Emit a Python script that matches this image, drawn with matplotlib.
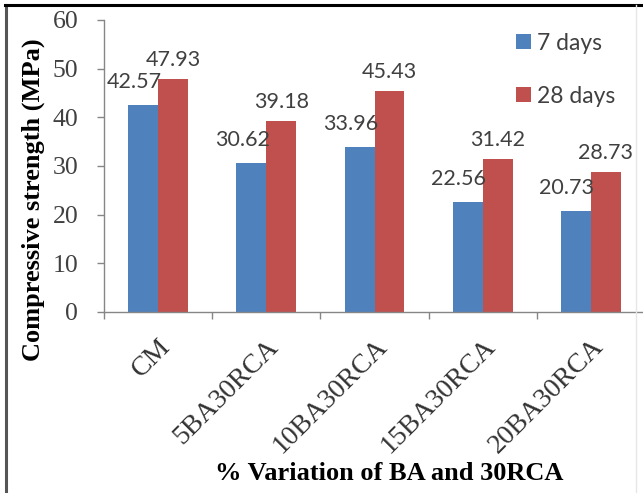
import numpy as np
import matplotlib
matplotlib.use('Agg')
from matplotlib import pyplot as plt
from matplotlib.lines import Line2D

# data
categories = ['CM', '5BA30RCA', '10BA30RCA', '15BA30RCA', '20BA30RCA']
days7 = [42.57, 30.62, 33.96, 22.56, 20.73]
days28 = [47.93, 39.18, 45.43, 31.42, 28.73]
series_names = ['7 days', '28 days']
yticks = [0, 10, 20, 30, 40, 50, 60]

blue = '#4F81BD'
red = '#C0504D'
axis_grey = '#868686'
text_grey = '#404040'
serif = 'Liberation Serif'
sans = 'Lato'

W, H = 643, 493
fig = plt.figure(figsize=(W / 100, H / 100), dpi=100)
ax = fig.add_axes([104 / W, 1 - 312 / H, (645 - 104) / W, (312 - 20) / H])

x = np.arange(len(categories))
w = 0.277
ax.bar(x - w / 2, days7, w, color=blue, label=series_names[0])
ax.bar(x + w / 2, days28, w, color=red, label=series_names[1])

# data labels (7 day labels sit a bit to the left like in the original)
for xi, v in zip(x, days7):
    ax.annotate(f'{v:.2f}', (xi - w / 2, v), xytext=(-9, 23), textcoords='offset pixels',
                ha='center', va='center', fontsize=15.5, family=sans, color=text_grey)
for xi, v in zip(x, days28):
    ax.annotate(f'{v:.2f}', (xi + w / 2, v), xytext=(0, 19), textcoords='offset pixels',
                ha='center', va='center', fontsize=15.5, family=sans, color=text_grey)

ax.set_xlim(-0.5, len(categories) - 0.5)
ax.set_ylim(0, 60)
ax.set_yticks(yticks)
ax.set_yticklabels([str(t) for t in yticks], family=serif, fontsize=18.5, color=text_grey)
ax.tick_params(axis='y', length=5, width=1, color=axis_grey, pad=13.5)

ax.set_xticks(x)
ax.set_xticklabels(categories, rotation=45, ha='right', va='top', rotation_mode='anchor',
                   family=serif, fontsize=20, color='#333333')
ax.tick_params(axis='x', which='major', length=0, pad=16)
ax.set_xticks(np.arange(len(categories) + 1) - 0.5, minor=True)
ax.tick_params(axis='x', which='minor', length=5, width=1, color=axis_grey)

for s in ['top', 'right']:
    ax.spines[s].set_visible(False)
for s in ['left', 'bottom']:
    ax.spines[s].set_color(axis_grey)
    ax.spines[s].set_linewidth(1)

fig.text(33 / W, 1 - 200 / H, 'Compressive strength (MPa)', rotation=90, ha='center', va='center',
         family=serif, fontweight='bold', fontsize=19, color='black')
fig.text(389 / W, 1 - 474 / H, '% Variation of BA and 30RCA', ha='center', va='center',
         family=serif, fontweight='bold', fontsize=19, color='black')

leg = fig.legend(loc='upper left', bbox_to_anchor=(495 / W, 1 - 12 / H), frameon=False,
                 handlelength=0.65, handleheight=0.65, handletextpad=0.3, labelspacing=1.4,
                 prop={'family': sans, 'size': 16.5})
for t in leg.get_texts():
    t.set_color(text_grey)

# picture frame
fig.add_artist(Line2D([6 / W, 6 / W], [0, 1 - 5 / H], color='#555555', lw=2.2))
fig.add_artist(Line2D([5 / W, 1], [1 - 5 / H, 1 - 5 / H], color='black', lw=2.2))
fig.add_artist(Line2D([636 / W, 636 / W], [0, 1 - 5 / H], color='#e6e6e6', lw=1))

fig.savefig('out.png', dpi=100)
